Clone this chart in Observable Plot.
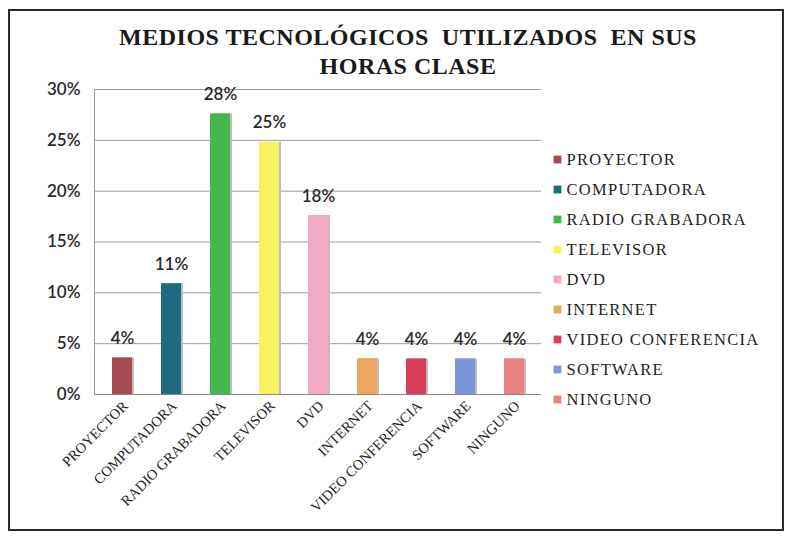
<!DOCTYPE html>
<html>
<head>
<meta charset="utf-8">
<script src="https://cdn.jsdelivr.net/npm/d3@7"></script>
<script src="https://cdn.jsdelivr.net/npm/@observablehq/plot@0.6"></script>
<style>
  html, body { margin: 0; padding: 0; background: #fff; overflow: hidden; }
  #wrap { position: relative; width: 793px; height: 537px; }
  #border { position: absolute; left: 8px; top: 9px; width: 776px; height: 522px; border: 2px solid #2a2a2a; box-sizing: border-box; }
  #title { position: absolute; left: 0; width: 816px; top: 23px; text-align: center; white-space: pre;
           font-weight: bold; font-size: 24px; line-height: 29px; letter-spacing: 0.5px; color: #1a1a1a; }
  #main { position: absolute; left: 0; top: 0; }
  #legend { position: absolute; left: 545px; top: 141.75px; }
</style>
</head>
<body>
<div id="wrap">
  <div id="border"></div>
  <div id="main"></div>
  <div id="legend"></div>
  <div id="title" style="font-family:'Liberation Serif', 'Times New Roman', serif">MEDIOS TECNOLÓGICOS  UTILIZADOS  EN SUS
HORAS CLASE</div>
</div>
<script>
const categories = ["PROYECTOR", "COMPUTADORA", "RADIO GRABADORA", "TELEVISOR", "DVD", "INTERNET", "VIDEO CONFERENCIA", "SOFTWARE", "NINGUNO"];
const values = [0.036, 0.109, 0.276, 0.248, 0.176, 0.035, 0.035, 0.035, 0.035];
const colors = ["#a54c52", "#1e6a80", "#45b54e", "#f6f35e", "#f1a9c5", "#eca65d", "#d93d5c", "#7f95db", "#ec8087"];
const yTicks = [0, 0.05, 0.10, 0.15, 0.20, 0.25, 0.30];

const rows = categories.map((c, i) => ({cat: c, value: values[i]}));
const pct = d3.format(".0%");
const serif = "'Liberation Serif', 'Times New Roman', serif";
const sans = "Lato, 'Open Sans', sans-serif";

const main = Plot.plot({
  width: 560, height: 537, marginLeft: 94, marginRight: 19, marginTop: 89, marginBottom: 143,
  style: {background: "transparent", overflow: "visible"},
  x: {domain: categories, paddingInner: 0.6, paddingOuter: 0.3, label: null},
  y: {domain: [0, 0.30], label: null},
  color: {domain: categories, range: colors},
  marks: [
    Plot.gridY(yTicks, {stroke: "#9c9c9c", strokeOpacity: 1, strokeWidth: 1}),
    Plot.ruleY([0], {stroke: "#8a8a8a", strokeWidth: 1.2}),
    Plot.frame({anchor: "left", stroke: "#9c9c9c"}),
    Plot.barY(rows, {x: "cat", y: "value", fill: "#bdbdbd", dx: 2}),
    Plot.barY(rows, {x: "cat", y: "value", fill: "cat"}),
    Plot.text(rows, {x: "cat", y: "value", text: d => pct(d.value), dy: -14, lineAnchor: "bottom",
      fontFamily: sans, fontSize: 17, fontWeight: 600, fill: "#2a2a2a"}),
    Plot.axisY(yTicks, {tickSize: 0, tickPadding: 14, tickFormat: pct, fontFamily: sans,
      fontSize: 17, fontWeight: 600, fill: "#2a2a2a", label: null}),
    Plot.axisX({tickSize: 0, tickRotate: -45, tickPadding: 9, dx: 3, fontFamily: serif,
      fontSize: 14.5, fill: "#222", label: null})
  ]
});
document.getElementById("main").appendChild(main);

const legend = Plot.plot({
  width: 245, height: 274.5, margin: 0,
  style: {background: "transparent", overflow: "visible"},
  x: {axis: null},
  y: {type: "band", domain: categories, padding: 0, axis: null},
  color: {domain: categories, range: colors},
  marks: [
    Plot.dot(categories, {y: d => d, fill: d => d, symbol: "square", r: 4.4, frameAnchor: "left", dx: 12}),
    Plot.text(categories, {y: d => d, text: d => d, frameAnchor: "left", dx: 21, textAnchor: "start",
      fontFamily: serif, fontSize: 16.5, fill: "#1e1e1e"})
  ]
});
legend.querySelectorAll("text").forEach(t => t.style.letterSpacing = "1.3px");
document.getElementById("legend").appendChild(legend);
</script>
</body>
</html>
